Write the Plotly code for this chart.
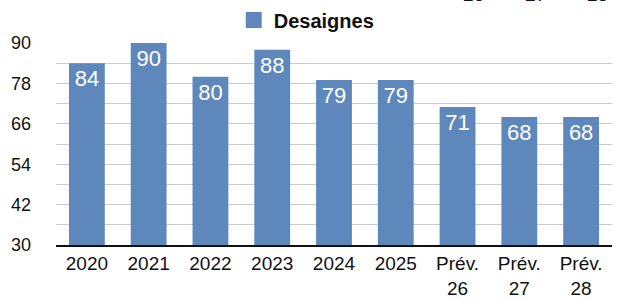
import plotly.graph_objects as go

categories = ["2020", "2021", "2022", "2023", "2024", "2025", "Prév.<br>26", "Prév.<br>27", "Prév.<br>28"]
values = [84, 90, 80, 88, 79, 79, 71, 68, 68]
series_name = "Desaignes"
y_ticks = [30, 42, 54, 66, 78, 90]
top_fragments = ["26", "27", "28"]

font = "Liberation Sans, Arial, Helvetica, sans-serif"
bar_color = "#5e88bb"

fig = go.Figure()
fig.add_trace(go.Bar(
    x=categories, y=values, name=series_name,
    marker=dict(color=bar_color, line=dict(width=0)),
    text=[str(v) for v in values], textposition="inside",
    insidetextanchor="end",
    textfont=dict(color="white", size=22, family=font),
    showlegend=False,
))
# legend entry with a larger square swatch
fig.add_trace(go.Scatter(
    x=[None], y=[None], mode="markers", name=series_name,
    marker=dict(symbol="square", size=20, color=bar_color),
    showlegend=True,
))

H = 245.0  # plot+top region height (margin t=0)
fig.update_yaxes(
    range=[30, 90], tickvals=y_ticks, ticktext=[str(t) for t in y_ticks],
    domain=[0, 202 / H],
    showgrid=True, gridcolor="#cccccc", gridwidth=1,
    minor=dict(dtick=6, tick0=30, showgrid=True, gridcolor="#cccccc", gridwidth=1),
    tickfont=dict(size=18, family=font, color="#111111"),
    zeroline=False, showline=False, ticks="", ticklabelstandoff=24,
)
fig.update_xaxes(
    showline=True, linecolor="#111111", linewidth=2,
    tickfont=dict(size=19, family=font, color="#111111"),
    ticks="", showgrid=False,
)

for i, t in enumerate(top_fragments):
    fig.add_annotation(x=6 + i, y=(H - 7) / H, xref="x", yref="paper", text=t,
                       showarrow=False, xshift=16, yanchor="bottom",
                       font=dict(size=19, family=font, color="#111111"))

fig.update_layout(
    width=626, height=300,
    margin=dict(l=56, r=14, t=0, b=55, autoexpand=False),
    plot_bgcolor="white", paper_bgcolor="white",
    bargap=0.42,
    legend=dict(orientation="h", xref="container", x=0.49, xanchor="center",
                y=(H - 20) / H, yanchor="middle",
                font=dict(size=20, family=font, color="#111111", weight="bold"),
                itemsizing="trace", bgcolor="rgba(0,0,0,0)"),
    uniformtext=dict(minsize=8, mode="show"),
)

fig.write_html("out.html", config={"displayModeBar": False},
               post_script="document.body.style.margin='0';")
